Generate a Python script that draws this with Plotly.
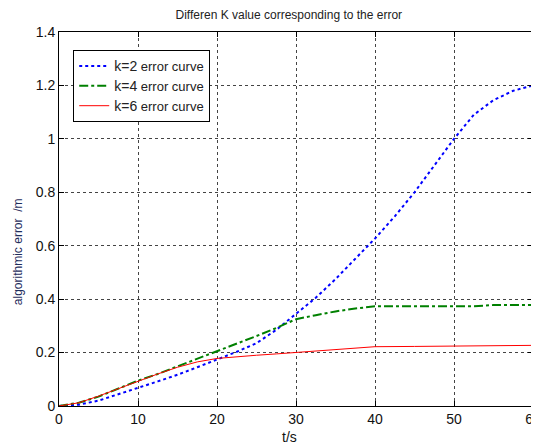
import plotly.graph_objects as go

t_k2 = [0, 2.5, 5, 7.5, 10, 12.5, 15, 17.5, 20, 22.5, 25, 27.5, 30, 32.5, 35, 37.5, 40, 42.5, 45, 47.5, 50, 52.5, 55, 57.5, 60]
e_k2 = [0, 0.005, 0.02, 0.045, 0.068, 0.092, 0.117, 0.145, 0.173, 0.203, 0.235, 0.285, 0.345, 0.405, 0.475, 0.55, 0.627, 0.71, 0.80, 0.90, 1.00, 1.09, 1.145, 1.18, 1.20]

t_k4 = [0, 2.5, 5, 7.5, 10, 12.5, 15, 17.5, 20, 22.5, 25, 27.5, 30, 32.5, 35, 37.5, 40, 45, 50, 52.5, 55, 60]
e_k4 = [0, 0.012, 0.035, 0.065, 0.095, 0.12, 0.148, 0.178, 0.206, 0.235, 0.262, 0.292, 0.325, 0.34, 0.354, 0.365, 0.373, 0.373, 0.373, 0.373, 0.378, 0.378]

t_k6 = [0, 2.5, 5, 7.5, 10, 12.5, 15, 17.5, 20, 22.5, 25, 27.5, 30, 35, 40, 45, 50, 60]
e_k6 = [0, 0.012, 0.037, 0.065, 0.095, 0.12, 0.145, 0.165, 0.178, 0.185, 0.19, 0.195, 0.20, 0.21, 0.222, 0.223, 0.225, 0.227]

x_ticks = [0, 10, 20, 30, 40, 50, 60]
y_ticks = [0, 0.2, 0.4, 0.6, 0.8, 1, 1.2, 1.4]
y_tick_text = ["0", "0.2", "0.4", "0.6", "0.8", "1", "1.2", "1.4"]

FONT = "Arial, Liberation Sans, sans-serif"

def leg(k):
    return "<span style='font-size:14px'>k=%d</span> error curve" % k

fig = go.Figure()
fig.add_trace(go.Scatter(x=t_k2, y=e_k2, mode="lines", name=leg(2),
                         line=dict(color="#0000ff", width=2, dash="dot")))
fig.add_trace(go.Scatter(x=t_k4, y=e_k4, mode="lines", name=leg(4),
                         line=dict(color="#008000", width=2, dash="dashdot")))
fig.add_trace(go.Scatter(x=t_k6, y=e_k6, mode="lines", name=leg(6),
                         line=dict(color="#ff0000", width=1)))

axis_common = dict(showline=True, linecolor="black", linewidth=1, mirror="ticks",
                   ticks="inside", ticklen=5, tickcolor="black",
                   showgrid=True, gridcolor="#444444", gridwidth=1, griddash="3px,3px",
                   zeroline=False, automargin=False, ticklabeloverflow="allow",
                   tickfont=dict(family=FONT, size=14, color="#111111"))

fig.update_xaxes(range=[0, 60], tickvals=x_ticks, ticktext=[str(v) for v in x_ticks], **axis_common)
fig.update_yaxes(range=[0, 1.4], tickvals=y_ticks, ticktext=y_tick_text, **axis_common)

fig.add_annotation(text="algorithmic error  /m", textangle=-90, xref="paper", yref="paper",
                   x=-0.086, y=0.412, showarrow=False, xanchor="center", yanchor="middle",
                   font=dict(family=FONT, size=12, color="#1f2d5c"))
fig.add_annotation(text="t/s", xref="paper", yref="paper",
                   x=0.487, y=-0.083, showarrow=False, xanchor="center", yanchor="middle",
                   font=dict(family=FONT, size=14, color="#111111"))

fig.update_layout(
    width=539, height=445,
    margin=dict(l=51, r=14, t=24, b=47),
    paper_bgcolor="white", plot_bgcolor="white",
    title=dict(text="Differen K value corresponding to the error", x=0.521, xanchor="center",
               y=0.985, yanchor="middle",
               font=dict(family=FONT, size=12, color="#222222")),
    legend=dict(x=0.03, y=0.952, xanchor="left", yanchor="top",
                bgcolor="white", bordercolor="black", borderwidth=1,
                font=dict(family=FONT, size=13, color="#222222"),
                tracegroupgap=0),
    showlegend=True,
)

fig.write_html("out.html")
